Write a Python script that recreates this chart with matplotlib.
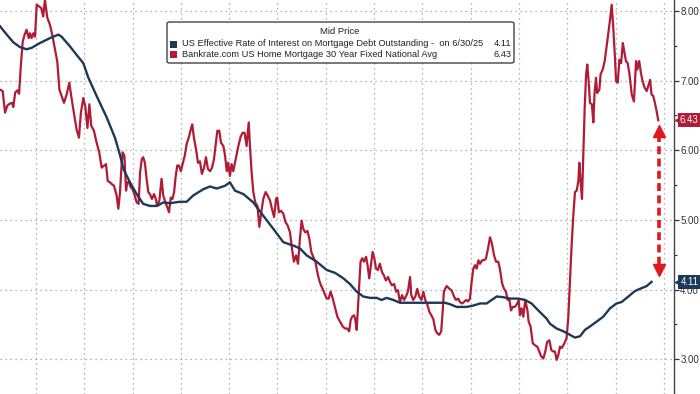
import matplotlib
matplotlib.use("Agg")
import matplotlib.pyplot as plt
from matplotlib.patches import FancyBboxPatch, Rectangle
import matplotlib.transforms as mtransforms
import numpy as np

# values (x in decimal years)
bankrate_years = [
    1998.51, 1998.62, 1998.72, 1998.81, 1998.92, 1999.01, 1999.06, 1999.14, 1999.23, 1999.30,
    1999.37, 1999.45, 1999.53, 1999.61, 1999.70, 1999.75, 1999.82, 1999.89, 1999.96, 2000.03,
    2000.14, 2000.22, 2000.30, 2000.37, 2000.47, 2000.58, 2000.69, 2000.79, 2000.88, 2000.97,
    2001.06, 2001.16, 2001.27, 2001.38, 2001.48, 2001.57, 2001.68, 2001.78, 2001.86, 2001.96,
    2002.04, 2002.13, 2002.21, 2002.29, 2002.40, 2002.51, 2002.62, 2002.72, 2002.82, 2002.90,
    2002.97, 2003.06, 2003.15, 2003.23, 2003.34, 2003.41, 2003.48, 2003.55, 2003.59, 2003.66,
    2003.73, 2003.78, 2003.85, 2003.92, 2004.00, 2004.09, 2004.17, 2004.25, 2004.31, 2004.38,
    2004.44, 2004.51, 2004.58, 2004.65, 2004.72, 2004.80, 2004.89, 2004.96, 2005.02, 2005.11,
    2005.20, 2005.27, 2005.36, 2005.44, 2005.51, 2005.58, 2005.65, 2005.72, 2005.78, 2005.85,
    2005.92, 2006.00, 2006.07, 2006.16, 2006.24, 2006.34, 2006.41, 2006.47, 2006.54, 2006.63,
    2006.71, 2006.79, 2006.87, 2006.96, 2007.04, 2007.12, 2007.21, 2007.29, 2007.37, 2007.45,
    2007.51, 2007.59, 2007.66, 2007.76, 2007.83, 2007.90, 2007.96, 2008.03, 2008.10, 2008.17,
    2008.27, 2008.38, 2008.48, 2008.56, 2008.64, 2008.72, 2008.81, 2008.86, 2008.93, 2009.00,
    2009.08, 2009.17, 2009.25, 2009.33, 2009.41, 2009.51, 2009.59, 2009.69, 2009.77, 2009.86,
    2009.94, 2009.99, 2010.06, 2010.15, 2010.24, 2010.33, 2010.42, 2010.52, 2010.60, 2010.68,
    2010.77, 2010.85, 2010.93, 2011.00, 2011.07, 2011.15, 2011.24, 2011.32, 2011.40, 2011.48,
    2011.57, 2011.65, 2011.73, 2011.80, 2011.87, 2011.95, 2012.04, 2012.12, 2012.20, 2012.29,
    2012.37, 2012.48, 2012.59, 2012.70, 2012.80, 2012.89, 2012.97, 2013.03, 2013.09, 2013.17,
    2013.22, 2013.28, 2013.33, 2013.39, 2013.44, 2013.51, 2013.58, 2013.67, 2013.73, 2013.80,
    2013.87, 2013.94, 2014.01, 2014.08, 2014.16, 2014.24, 2014.33, 2014.41, 2014.49, 2014.58,
    2014.66, 2014.74, 2014.83, 2014.91, 2014.99, 2015.07, 2015.16, 2015.24, 2015.32, 2015.40,
    2015.49, 2015.54, 2015.62, 2015.71, 2015.79, 2015.87, 2015.96, 2016.04, 2016.12, 2016.21,
    2016.29, 2016.37, 2016.45, 2016.54, 2016.62, 2016.70, 2016.78, 2016.84, 2016.89, 2016.94,
    2017.01, 2017.12, 2017.21, 2017.31, 2017.39, 2017.48, 2017.56, 2017.64, 2017.72, 2017.81,
    2017.89, 2017.97, 2018.04, 2018.11, 2018.18, 2018.25, 2018.32, 2018.39, 2018.47, 2018.55,
    2018.63, 2018.72, 2018.80, 2018.88, 2018.97, 2019.05, 2019.14, 2019.21, 2019.30, 2019.38,
    2019.46, 2019.53, 2019.60, 2019.67, 2019.74, 2019.82, 2019.90, 2019.99, 2020.04, 2020.11,
    2020.18, 2020.26, 2020.35, 2020.40, 2020.48, 2020.57, 2020.66, 2020.76, 2020.84, 2020.92,
    2021.01, 2021.09, 2021.17, 2021.26, 2021.34, 2021.42, 2021.49, 2021.56, 2021.63, 2021.70,
    2021.77, 2021.84, 2021.91, 2021.97, 2022.04, 2022.11, 2022.18, 2022.25, 2022.32, 2022.39,
    2022.46, 2022.50, 2022.55, 2022.61, 2022.66, 2022.72, 2022.78, 2022.83, 2022.89, 2022.94,
    2023.02, 2023.08, 2023.13, 2023.19, 2023.24, 2023.33, 2023.38, 2023.47, 2023.55, 2023.63,
    2023.70, 2023.77, 2023.84, 2023.91, 2023.98, 2024.02, 2024.09, 2024.16, 2024.23, 2024.30,
    2024.35, 2024.43, 2024.50, 2024.57, 2024.67, 2024.76, 2024.85, 2024.90, 2024.98, 2025.05,
    2025.12, 2025.20, 2025.29, 2025.37, 2025.43, 2025.49, 2025.56, 2025.63, 2025.70, 2025.77,
]
bankrate_rates = [
    6.87, 6.85, 6.54, 6.64, 6.67, 6.68, 6.62, 6.83, 6.86, 6.81,
    7.20, 7.56, 7.66, 7.73, 7.61, 7.68, 7.61, 7.68, 7.63, 8.09,
    8.06, 8.04, 7.92, 8.16, 7.90, 7.80, 7.63, 7.44, 7.28, 6.87,
    6.78, 6.68, 6.80, 6.97, 6.73, 6.54, 6.30, 6.18, 6.54, 6.75,
    6.63, 6.32, 6.66, 6.35, 6.28, 6.11, 5.97, 5.75, 5.78, 5.80,
    5.56, 5.54, 5.51, 5.49, 5.35, 5.16, 5.40, 5.82, 5.97, 5.92,
    5.42, 5.54, 5.54, 5.47, 5.44, 5.35, 5.25, 5.23, 5.68, 5.87,
    5.90, 5.82, 5.59, 5.40, 5.37, 5.30, 5.37, 5.30, 5.20, 5.28,
    5.59, 5.35, 5.25, 5.18, 5.11, 5.32, 5.30, 5.40, 5.61, 5.78,
    5.78, 5.70, 5.80, 5.92, 6.09, 6.20, 6.30, 6.37, 6.18, 6.01,
    5.82, 5.84, 5.66, 5.75, 5.90, 5.73, 5.70, 5.75, 5.87, 6.11,
    6.28, 6.28, 6.11, 6.06, 5.92, 5.70, 5.82, 5.63, 5.80, 5.70,
    5.87, 6.06, 6.20, 6.25, 6.25, 6.06, 6.40, 6.06, 5.68, 5.40,
    5.25, 5.20, 4.90, 5.11, 5.30, 5.40, 5.35, 5.28, 5.16, 5.04,
    5.30, 5.32, 5.11, 5.13, 5.09, 4.97, 4.92, 4.82, 4.59, 4.40,
    4.49, 4.37, 4.73, 4.99, 4.87, 4.82, 4.84, 4.73, 4.54, 4.47,
    4.40, 4.25, 4.13, 4.06, 4.01, 3.94, 3.87, 3.87, 3.97, 3.87,
    3.76, 3.61, 3.54, 3.47, 3.44, 3.44, 3.40, 3.56, 3.61, 3.63,
    3.58, 3.42, 3.73, 4.11, 4.40, 4.45, 4.40, 4.47, 4.35, 4.16,
    4.35, 4.54, 4.45, 4.30, 4.28, 4.37, 4.25, 4.20, 4.13, 4.18,
    4.11, 4.06, 4.08, 3.97, 3.99, 3.82, 3.92, 3.85, 3.90, 3.97,
    4.18, 3.92, 3.85, 3.90, 4.01, 3.90, 3.85, 3.97, 3.85, 3.78,
    3.68, 3.63, 3.58, 3.42, 3.37, 3.35, 3.40, 3.68, 3.97, 4.01,
    4.05, 4.01, 3.99, 3.90, 3.85, 3.87, 3.82, 3.80, 3.82, 3.85,
    3.83, 3.87, 4.11, 4.30, 4.35, 4.30, 4.42, 4.37, 4.42, 4.42,
    4.44, 4.59, 4.75, 4.66, 4.49, 4.40, 4.40, 4.30, 4.09, 4.01,
    3.97, 3.85, 3.87, 3.70, 3.75, 3.75, 3.78, 3.85, 3.63, 3.73,
    3.61, 3.85, 3.70, 3.54, 3.47, 3.23, 3.20, 3.18, 3.11, 3.04,
    3.01, 3.11, 3.25, 3.27, 3.13, 3.11, 3.11, 2.99, 3.06, 3.18,
    3.16, 3.20, 3.25, 3.30, 3.58, 4.11, 4.63, 5.06, 5.40, 5.42,
    5.56, 5.82, 5.56, 5.30, 5.87, 6.59, 7.09, 7.23, 6.97, 6.68,
    6.66, 6.40, 6.82, 7.04, 6.82, 6.87, 7.09, 7.16, 7.28, 7.49,
    7.68, 7.87, 8.09, 7.73, 7.30, 6.99, 6.97, 7.30, 7.25, 7.54,
    7.44, 7.28, 7.25, 7.11, 6.80, 6.70, 7.28, 7.16, 7.28, 7.11,
    6.99, 6.90, 6.85, 6.94, 7.01, 6.80, 6.78, 6.68, 6.56, 6.43,
]

effective_years = [
    1998.51, 1998.79, 1999.06, 1999.34, 1999.61, 1999.82, 2000.17, 2000.58, 2000.93, 2001.06,
    2001.41, 2001.68, 2001.96, 2002.17, 2002.51, 2002.93, 2003.27, 2003.48, 2003.62, 2003.89,
    2004.17, 2004.44, 2004.72, 2005.00, 2005.27, 2005.55, 2005.96, 2006.24, 2006.51, 2006.93,
    2007.21, 2007.48, 2007.83, 2008.03, 2008.24, 2008.59, 2009.00, 2009.41, 2009.83, 2010.24,
    2010.66, 2010.93, 2011.21, 2011.62, 2012.04, 2012.38, 2012.73, 2013.00, 2013.28, 2013.55,
    2013.83, 2014.11, 2014.31, 2014.52, 2014.80, 2015.07, 2015.62, 2016.18, 2016.94, 2017.14,
    2017.42, 2017.83, 2018.11, 2018.39, 2018.66, 2018.87, 2019.08, 2019.35, 2019.63, 2019.97,
    2020.25, 2020.52, 2020.80, 2021.15, 2021.28, 2021.56, 2021.84, 2022.11, 2022.32, 2022.53,
    2022.73, 2022.94, 2023.22, 2023.49, 2023.77, 2024.04, 2024.25, 2024.53, 2024.81, 2025.08,
    2025.29, 2025.49,
]
effective_rates = [
    7.78, 7.66, 7.55, 7.48, 7.45, 7.47, 7.54, 7.61, 7.66, 7.63,
    7.49, 7.37, 7.25, 7.04, 6.78, 6.47, 6.18, 5.93, 5.73, 5.54,
    5.37, 5.23, 5.20, 5.20, 5.25, 5.24, 5.26, 5.26, 5.35, 5.44,
    5.48, 5.45, 5.49, 5.54, 5.42, 5.37, 5.25, 5.06, 4.87, 4.68,
    4.63, 4.59, 4.49, 4.40, 4.28, 4.24, 4.16, 4.08, 3.97, 3.90,
    3.88, 3.88, 3.85, 3.88, 3.85, 3.81, 3.81, 3.81, 3.81, 3.79,
    3.75, 3.75, 3.77, 3.80, 3.80, 3.85, 3.90, 3.89, 3.87, 3.87,
    3.85, 3.80, 3.70, 3.58, 3.51, 3.44, 3.40, 3.35, 3.31, 3.33,
    3.42, 3.47, 3.54, 3.61, 3.73, 3.80, 3.82, 3.90, 3.98, 4.02,
    4.05, 4.11,
]

legend_title = "Mid Price"
legend_labels = [
    "US Effective Rate of Interest on Mortgage Debt Outstanding -  on 6/30/25",
    "Bankrate.com US Home Mortgage 30 Year Fixed National Avg",
]
last_values = [4.11, 6.43]
y_ticks = [3, 4, 5, 6, 7, 8]
gap_arrow = (6.36, 4.19)  # spread arrow, top and bottom

RED = "#b01b36"
NAVY = "#1c3a58"
ARROW_RED = "#e0191c"
FONT = "Liberation Sans"

fig = plt.figure(figsize=(7, 3.94), dpi=100)
ax = fig.add_axes([0, 0, 674 / 700, 1])

ax.plot(bankrate_years, bankrate_rates, color=RED, lw=1.6, zorder=3)
ax.plot(effective_years, effective_rates, color=NAVY, lw=1.7, zorder=4)

ax.set_xlim(1998.51, 2026.42)
ax.set_ylim(2.53, 8.157)

# axis on the right, no x labels
ax.yaxis.tick_right()
ax.set_yticks(y_ticks)
ax.set_yticklabels([f"{v:.2f}" for v in y_ticks], fontsize=7, color="#333333", family=FONT)
ax.set_yticks(np.arange(2.5, 8.5, 0.5), minor=True)
ax.tick_params(axis="y", which="major", direction="out", length=3.5, width=0.9, colors="#333333", pad=1)
ax.tick_params(axis="y", which="minor", direction="out", length=2, width=0.8, colors="#333333")
ax.set_xticks(range(2000, 2027, 2))
ax.tick_params(axis="x", length=0, labelbottom=False)
ax.grid(True, which="major", color="#9a9a9a", linestyle=(0, (1, 3)), lw=0.9)
for side in ["left", "top", "bottom"]:
    ax.spines[side].set_visible(False)
ax.spines["right"].set_color("#444444")
ax.spines["right"].set_linewidth(1.0)

# last value tags on the right axis
tag_tf = mtransforms.blended_transform_factory(ax.transAxes, ax.transData)
for val, col in zip(last_values, [NAVY, RED]):
    ax.plot([677.5 / 674], [val], transform=tag_tf, marker="<", ms=5, color=col,
            mec=col, clip_on=False, zorder=9)
    ax.text(698.5 / 674, val, f"{val:.2f}", transform=tag_tf, fontsize=6.9,
            color="white", va="center", ha="right", clip_on=False, zorder=10, family=FONT,
            bbox=dict(boxstyle="square,pad=0.22", fc=col, ec=col, lw=0))

# dashed double arrow showing the gap
x_arrow = 2025.80
ax.plot([x_arrow, x_arrow], [gap_arrow[0] - 0.12, gap_arrow[1] + 0.12], color=ARROW_RED,
        lw=2.6, linestyle=(0, (2.2, 1.2)), zorder=6, solid_capstyle="butt")
ax.plot([x_arrow], [gap_arrow[0] - 0.09], marker="^", ms=8, color=ARROW_RED, mec=ARROW_RED, zorder=7)
ax.plot([x_arrow], [gap_arrow[1] + 0.09], marker="v", ms=8, color=ARROW_RED, mec=ARROW_RED, zorder=7)

# legend box
box = FancyBboxPatch((167 / 700, 1 - 63 / 394), (514 - 167) / 700, 41 / 394,
                     boxstyle="round,pad=0,rounding_size=0.004", transform=fig.transFigure,
                     fc="white", ec="#444444", lw=1.0, zorder=8, clip_on=False)
ax.add_patch(box)
fig.text(340 / 700, 1 - 32 / 394, legend_title, ha="center", va="center", fontsize=6.8,
         color="#222222", family=FONT, zorder=9)
for i, (lab, val, col) in enumerate(zip(legend_labels, last_values, [NAVY, RED])):
    yc = 1 - (44 + i * 10.5) / 394
    fig.patches.append(Rectangle((170 / 700, yc - 3.5 / 394), 7 / 700, 7 / 394,
                                 transform=fig.transFigure, fc=col, ec="none", zorder=9))
    fig.text(182 / 700, yc, lab, ha="left", va="center", fontsize=6.7, color="#222222",
             family=FONT, zorder=9)
    fig.text(511 / 700, yc, f"{val:.2f}", ha="right", va="center", fontsize=6.7,
             color="#222222", family=FONT, zorder=9)

fig.savefig("out.png", dpi=100)
